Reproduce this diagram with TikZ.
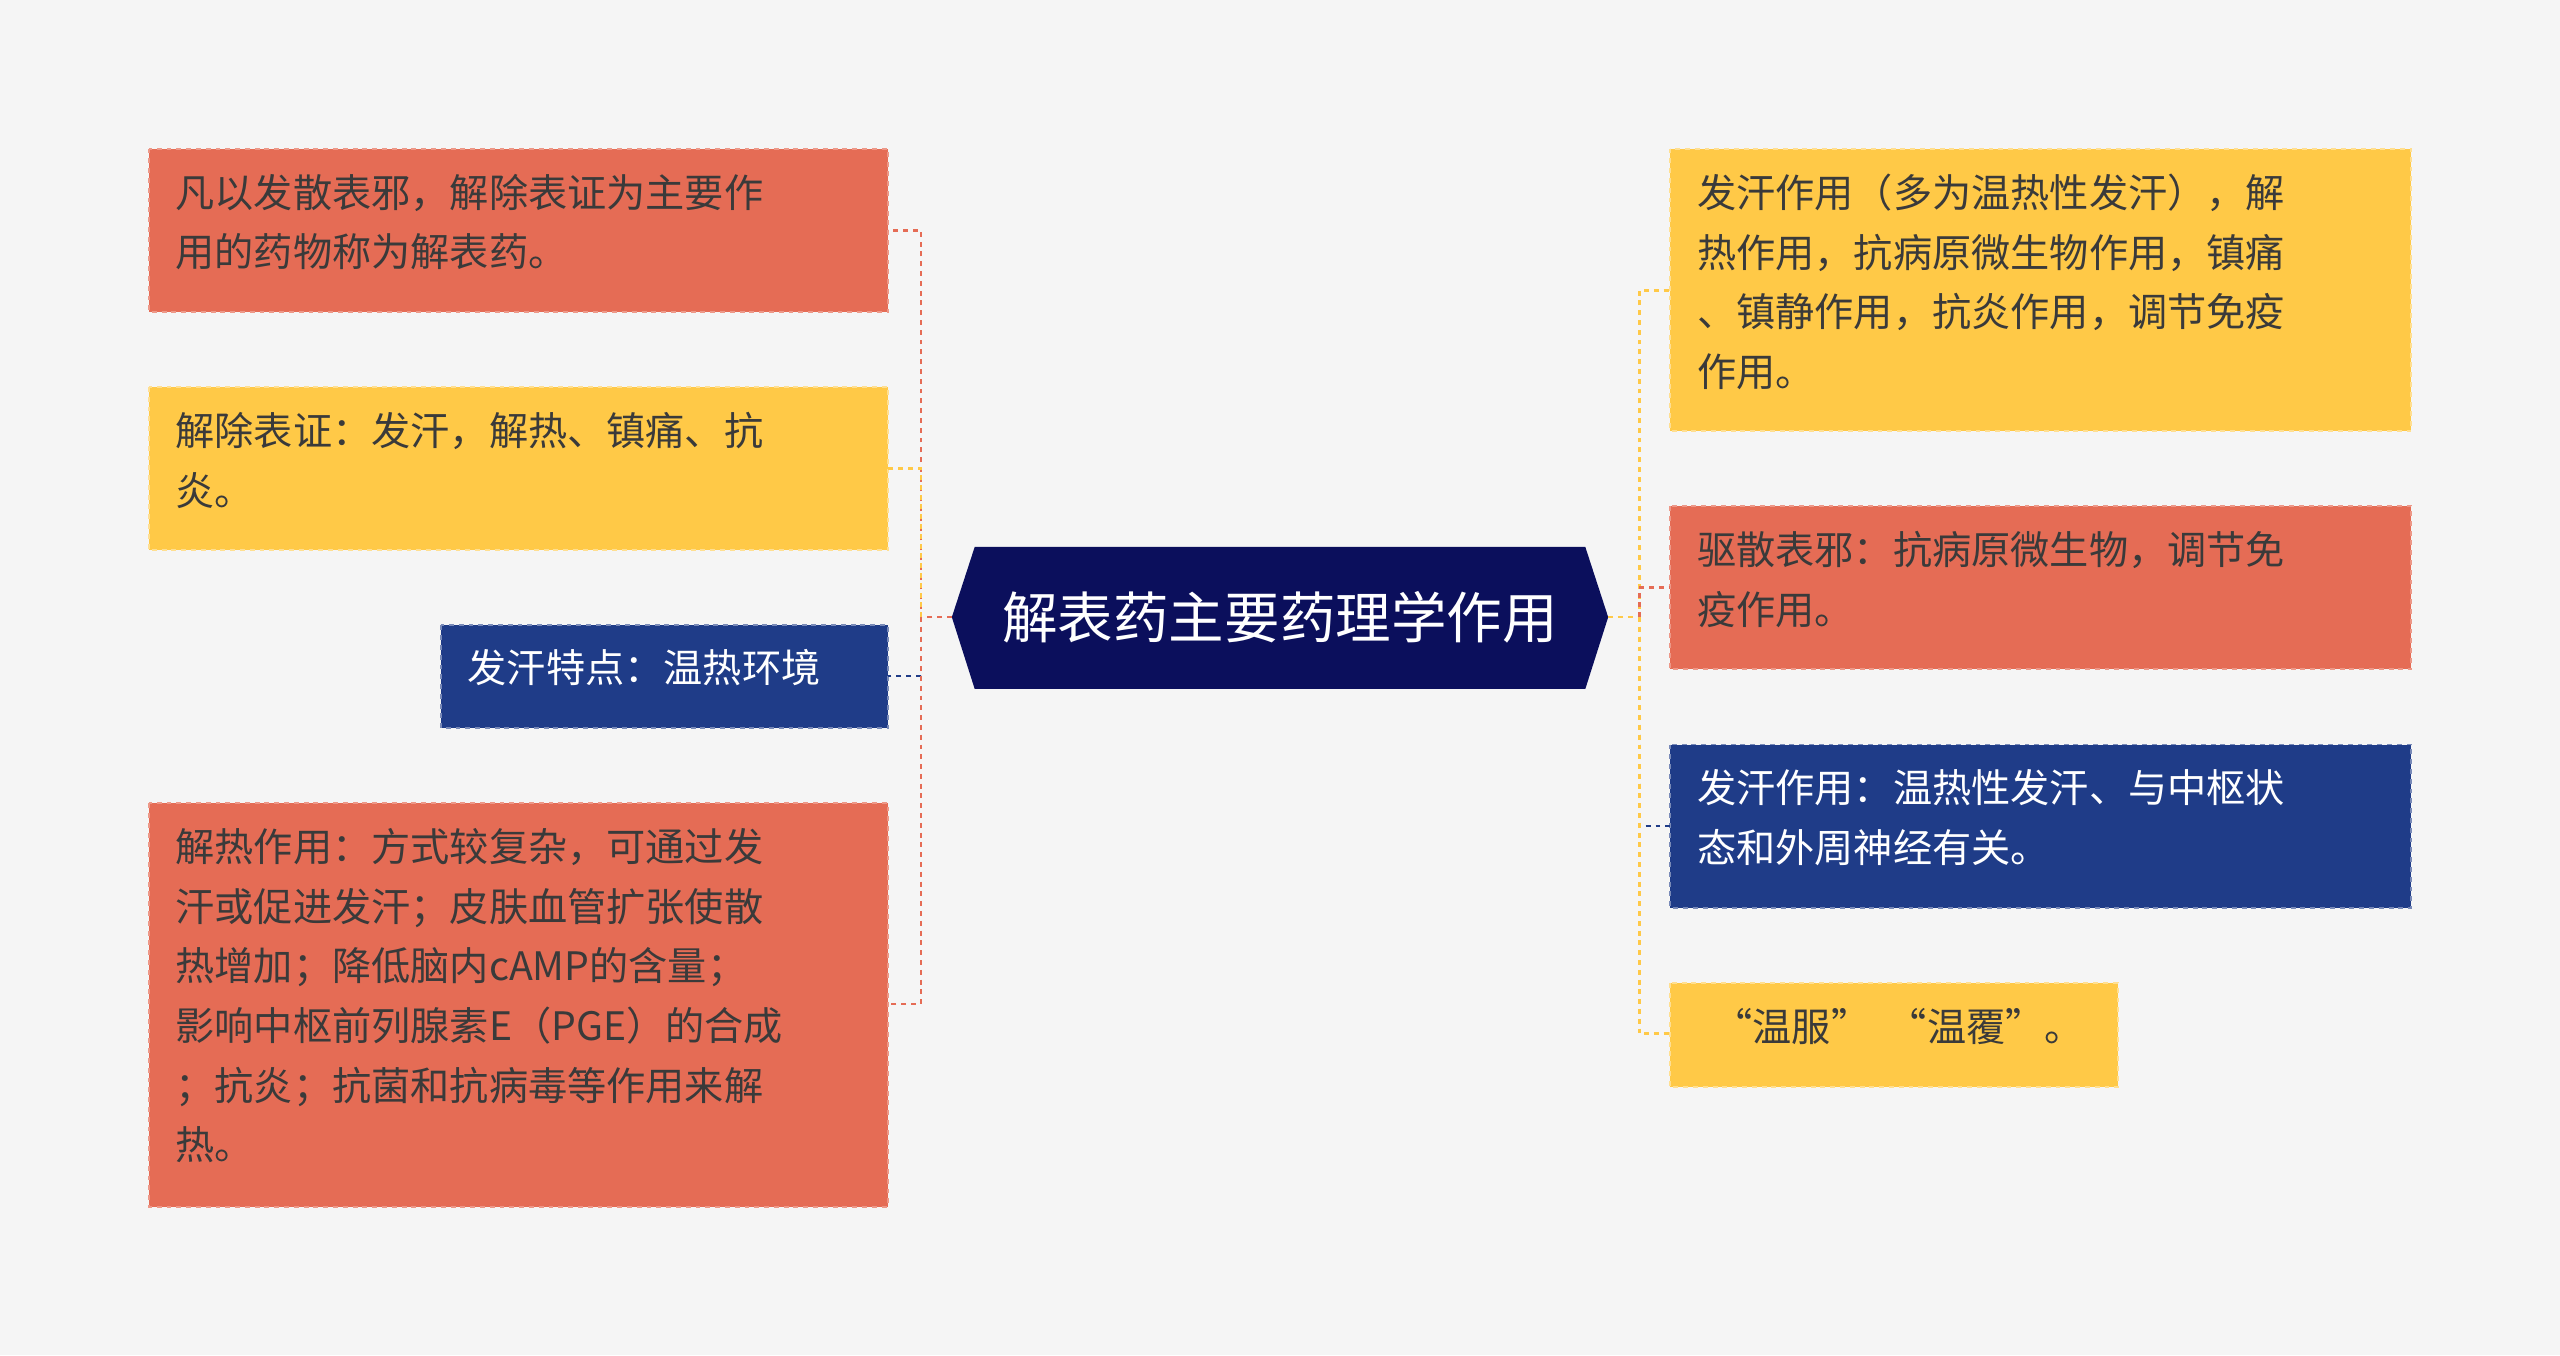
\documentclass[tikz,border=0pt]{standalone}
\usepackage{fontspec}
\setmainfont{Noto Sans CJK SC}
\begin{document}
\begin{tikzpicture}[x=1pt,y=-1pt,
  box/.style={draw, dashed, line width=1.2pt, anchor=north west, inner sep=0pt, text depth=0pt},
  red/.style={fill=cr, draw=cr!70!white},
  yel/.style={fill=cy, draw=cy!60!white},
  blu/.style={fill=cb, draw=cb!60!white},
  con/.style={dashed, line width=1.6pt},
  txt/.style={font=\fontsize{24}{36.5}\selectfont, align=left, text=tg}]
\definecolor{cr}{HTML}{E56C55}
\definecolor{cy}{HTML}{FFC947}
\definecolor{cb}{HTML}{1F3C88}
\definecolor{cn}{HTML}{0B0F5C}
\definecolor{tg}{HTML}{3A3A3A}
\definecolor{bg}{HTML}{F5F5F5}
\fill[bg] (0,0) rectangle (1568,830);
\useasboundingbox (0,0) rectangle (1568,830);
% boxes
\path[box,red] (91,91) rectangle (544,191);
\path[box,yel] (91,237) rectangle (544,337);
\path[box,blu] (270,383) rectangle (544,446);
\path[box,red] (91,492) rectangle (544,739);
\path[box,yel] (1023,91) rectangle (1477,264);
\path[box,red] (1023,310) rectangle (1477,410);
\path[box,blu] (1023,456) rectangle (1477,556);
\path[box,yel] (1023,602) rectangle (1297,666);
% texts
\node[txt,anchor=north west] (l1) at (104,103) {凡以发散表邪，解除表证为主要作\\用的药物称为解表药。};
\node[txt,anchor=north west] (l2) at (104,249) {解除表证：发汗，解热、镇痛、抗\\炎。};
\node[txt,anchor=north west,text=white] (l3) at (283,394) {发汗特点：温热环境};
\node[txt,anchor=north west] (l4) at (104,504) {解热作用：方式较复杂，可通过发\\汗或促进发汗；皮肤血管扩张使散\\热增加；降低脑内cAMP的含量；\\影响中枢前列腺素E（PGE）的合成\\；抗炎；抗菌和抗病毒等作用来解\\热。};
\node[txt,anchor=north west] (r1) at (1036,103) {发汗作用（多为温热性发汗），解\\热作用，抗病原微生物作用，镇痛\\、镇静作用，抗炎作用，调节免疫\\作用。};
\node[txt,anchor=north west] (r2) at (1036,322) {驱散表邪：抗病原微生物，调节免\\疫作用。};
\node[txt,anchor=north west,text=white] (r3) at (1036,468) {发汗作用：温热性发汗、与中枢状\\态和外周神经有关。};
\node[txt,anchor=north west] (r4) at (1046,614) {“温服”\ \ “温覆”。};
% center
\fill[cn] (583,378) -- (597,335) -- (971,335) -- (985,378) -- (971,422) -- (597,422) -- cycle;
\node[font=\fontsize{34}{40}\selectfont,text=white] (c) at (784,378) {解表药主要药理学作用};
\coordinate (cl) at (583,378); \coordinate (cr0) at (985,378);
% connectors left
\draw[con,cr] (cl) -- (564,378) -- (564,141) -- (544,141);
\draw[con,cy] (564,378) -- (564,287) -- (544,287);
\draw[con,cb] (564,378) -- (564,414) -- (544,414);
\draw[con,cr] (564,378) -- (564,615) -- (544,615);
% connectors right
\draw[con,cy] (cr0) -- (1004,378) -- (1004,178) -- (1023,178);
\draw[con,cr] (1004,378) -- (1004,360) -- (1023,360);
\draw[con,cb] (1004,378) -- (1004,506) -- (1023,506);
\draw[con,cy] (1004,378) -- (1004,633) -- (1023,633);
\end{tikzpicture}
\end{document}
